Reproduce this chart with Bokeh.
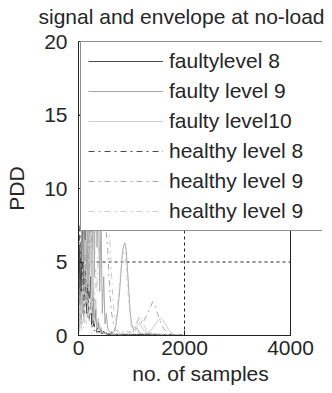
from bokeh.plotting import figure
from bokeh.models import Range1d, FixedTicker, Legend, LegendItem, Title
from bokeh.embed import file_html
from bokeh.resources import INLINE

# sample index (no. of samples)
samples = [0, 25, 50, 75, 100, 125, 150, 175, 200, 225,
           250, 275, 300, 325, 350, 375, 400, 425, 450, 475,
           500, 525, 550, 575, 600, 625, 650, 675, 700, 725,
           750, 775, 800, 825, 850, 875, 900, 925, 950, 975,
           1000, 1050, 1100, 1150, 1200, 1250, 1300, 1350, 1400, 1450,
           1500, 1550, 1600, 1650, 1700, 1750, 1800, 1850, 1900, 1950,
           2000]

faulty_level8 = [0.5, 6.0, 2.1, 9.5, 3.0, 12.0, 1.5, 8.0, 2.5, 4.0,
                 0.8, 3.2, 0.6, 1.8, 0.4, 0.9, 0.2, 0.5, 0.1, 0.3,
                 0.1, 0.2, 0.1, 0.15, 0.1, 0.2, 0.05, 0.1, 0.05, 0.1,
                 0.05, 0.1, 0.05, 0.1, 0.05, 0.1, 0.05, 0.08, 0.05, 0.08,
                 0.05, 0.08, 0.05, 0.1, 0.05, 0.08, 0.05, 0.1, 0.05, 0.08,
                 0.05, 0.05, 0.03, 0.05, 0.03, 0.03, 0.02, 0.02, 0.02, 0.01,
                 0.0]

faulty_level9 = [0.2, 1.0, 3.0, 1.5, 8.5, 2.0, 5.0, 1.2, 3.5, 9.0,
                 2.5, 11.0, 4.0, 13.0, 6.0, 10.5, 3.0, 8.0, 1.5, 4.0,
                 0.8, 1.5, 0.5, 0.3, 0.2, 0.3, 0.2, 0.3, 0.6, 1.2,
                 2.0, 3.0, 4.2, 5.5, 6.1, 6.3, 5.8, 4.5, 3.0, 1.6,
                 0.8, 0.3, 0.5, 0.2, 0.1, 0.1, 0.15, 0.1, 0.1, 0.08,
                 0.1, 0.08, 0.05, 0.05, 0.05, 0.03, 0.03, 0.02, 0.02, 0.01,
                 0.0]

faulty_level10 = [0.1, 2.0, 0.5, 4.0, 1.0, 6.5, 2.0, 9.0, 3.0, 7.0,
                  1.5, 5.0, 0.8, 2.5, 0.5, 1.2, 0.3, 0.6, 0.2, 0.15,
                  0.1, 0.15, 0.1, 0.1, 0.1, 0.1, 0.1, 0.1, 0.1, 0.1,
                  0.1, 0.1, 0.1, 0.1, 0.1, 0.1, 0.1, 0.1, 0.1, 0.15,
                  0.2, 0.3, 0.6, 0.9, 0.5, 0.3, 0.2, 0.3, 0.5, 0.8,
                  1.0, 1.2, 1.0, 0.7, 0.4, 0.2, 0.1, 0.05, 0.05, 0.0,
                  0.0]

healthy_level8 = [1.0, 7.5, 3.0, 5.0, 1.5, 4.5, 2.0, 3.5, 1.0, 2.2,
                  0.5, 1.0, 0.3, 0.5, 0.2, 0.3, 0.1, 0.2, 0.1, 0.1,
                  0.05, 0.1, 0.05, 0.05, 0.05, 0.05, 0.05, 0.05, 0.05, 0.05,
                  0.05, 0.05, 0.05, 0.05, 0.05, 0.05, 0.05, 0.05, 0.05, 0.05,
                  0.05, 0.05, 0.05, 0.05, 0.05, 0.05, 0.05, 0.05, 0.05, 0.05,
                  0.05, 0.05, 0.05, 0.05, 0.05, 0.05, 0.05, 0.05, 0.05, 0.05,
                  0.05]

healthy_level9 = [0.3, 1.5, 0.8, 3.0, 1.2, 5.5, 2.5, 7.8, 4.0, 10.0,
                  6.0, 8.5, 12.0, 9.0, 14.0, 11.0, 15.5, 12.0, 13.0, 9.5,
                  10.0, 7.0, 6.0, 4.0, 2.5, 1.5, 1.0, 0.6, 0.4, 0.3,
                  0.3, 0.2, 0.2, 0.2, 0.3, 0.2, 0.2, 0.3, 0.2, 0.3,
                  0.3, 0.5, 0.9, 1.2, 0.8, 1.1, 1.5, 1.9, 2.3, 2.0,
                  1.4, 0.9, 0.5, 0.3, 0.2, 0.1, 0.1, 0.05, 0.05, 0.05,
                  0.0]

healthy_level9b = [0.1, 0.5, 0.3, 1.0, 0.5, 1.5, 0.8, 2.0, 1.0, 2.5,
                   1.5, 3.0, 2.0, 4.5, 3.0, 6.0, 9.0, 7.0, 11.0, 8.5,
                   12.5, 9.0, 10.0, 7.5, 6.0, 4.0, 2.5, 1.5, 1.0, 1.5,
                   2.5, 3.5, 4.5, 5.3, 5.8, 5.6, 4.8, 3.5, 2.2, 1.2,
                   0.6, 0.4, 0.8, 1.3, 1.0, 0.6, 0.3, 0.2, 0.15, 0.1,
                   0.1, 0.1, 0.1, 0.05, 0.05, 0.05, 0.05, 0.05, 0.05, 0.0,
                   0.0]

series_labels = ["faultylevel 8", "faulty level 9", "faulty level10",
                 "healthy level 8", "healthy level 9", "healthy level 9"]
x_ticks = [0, 2000, 4000]
y_ticks = [0, 5, 10, 15, 20]
x_limit = 4000
y_limit = 20
title_text = "signal and envelope at no-load"

FONT = "Liberation Sans"
TXT = "#262626"
LINE = "#222222"

# The legend overhangs the axes box on the right, so the drawing frame is
# wider than the axes box; box edge and grid are drawn only up to x_limit.
AXES_W, FRAME_W = 212, 244
p = figure(width=332, height=393, output_backend="svg", toolbar_location=None,
           x_range=Range1d(0, x_limit * FRAME_W / AXES_W),
           y_range=Range1d(0, y_limit),
           min_border_left=78, min_border_right=10, min_border_top=41,
           min_border_bottom=58, title=title_text)
p.background_fill_color = "white"
p.border_fill_color = "white"
p.outline_line_color = None
p.xgrid.visible = False
p.ygrid.visible = False

p.title.text_font = FONT
p.title.text_font_size = "21px"
p.title.text_font_style = "normal"
p.title.text_color = TXT
p.title.align = "left"
p.title.offset = -40
p.title.standoff = 0
# empty spacer between the axes box and the title
p.add_layout(Title(text=" ", text_font_size="1px", standoff=11), "above")

# dashed grid inside the axes box
p.segment(x0=[0] * len(y_ticks), x1=[x_limit] * len(y_ticks), y0=y_ticks, y1=y_ticks,
          line_color=LINE, line_dash="3 3", line_width=1)
p.segment(x0=x_ticks, x1=x_ticks, y0=[0] * len(x_ticks), y1=[y_limit] * len(x_ticks),
          line_color=LINE, line_dash="3 3", line_width=1)

styles = [("#4a4a4a", "solid"), ("#a8a8a8", "solid"), ("#cbcbcb", "solid"),
          ("#4a4a4a", "dashdot"), ("#a8a8a8", "dashdot"), ("#cbcbcb", "dashdot")]
data = [faulty_level8, faulty_level9, faulty_level10,
        healthy_level8, healthy_level9, healthy_level9b]

items = []
for lab, ys, (col, dash) in zip(series_labels, data, styles):
    r = p.line(samples, ys, line_color=col, line_width=1, line_dash=dash)
    items.append(LegendItem(label=lab, renderers=[r]))

# right and top edges of the axes box
p.segment(x0=[x_limit, 0], x1=[x_limit, x_limit], y0=[0, y_limit], y1=[y_limit, y_limit],
          line_color=LINE, line_width=1)

for ax in (p.xaxis[0], p.yaxis[0]):
    ax.major_tick_in = 5
    ax.major_tick_out = 0
    ax.minor_tick_in = 0
    ax.minor_tick_out = 0
    ax.axis_line_color = LINE
    ax.major_tick_line_color = LINE
    ax.major_label_text_font = FONT
    ax.major_label_text_font_size = "21px"
    ax.major_label_text_color = TXT
    ax.axis_label_text_font = FONT
    ax.axis_label_text_font_size = "21px"
    ax.axis_label_text_font_style = "normal"
    ax.axis_label_text_color = TXT

p.xaxis[0].ticker = FixedTicker(ticks=x_ticks)
p.xaxis[0].bounds = (0, x_limit)
p.yaxis[0].ticker = FixedTicker(ticks=y_ticks)
p.xaxis[0].axis_label = "no. of samples"
p.yaxis[0].axis_label = "PDD"
p.xaxis[0].major_label_standoff = 5
p.xaxis[0].axis_label_standoff = 4
p.yaxis[0].major_label_standoff = 11
p.yaxis[0].axis_label_standoff = 13

legend = Legend(items=items, location=(2, 104), padding=7, spacing=6,
                glyph_width=75, glyph_height=24, label_height=24,
                label_standoff=6, label_width=147, margin=0,
                label_text_font=FONT, label_text_font_size="21px",
                label_text_color=TXT, border_line_color=LINE,
                border_line_width=1, background_fill_color="white",
                background_fill_alpha=1.0)
p.add_layout(legend, "center")

open("out.html", "w").write(file_html(p, INLINE))
